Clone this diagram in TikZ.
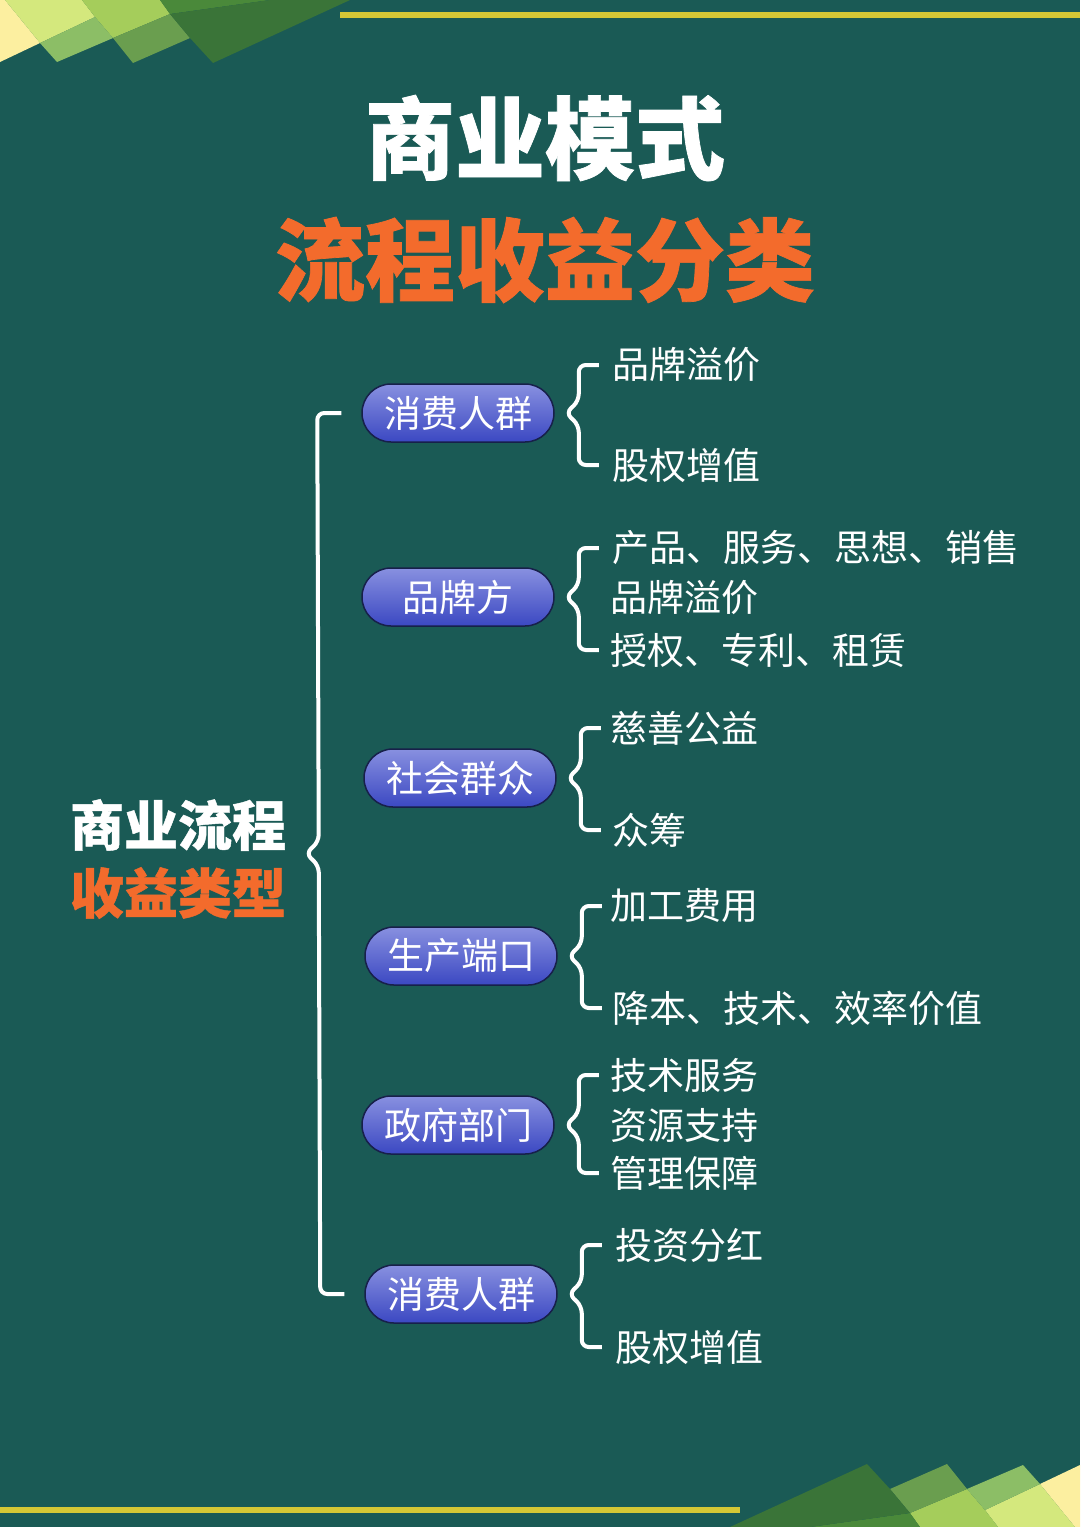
\documentclass[tikz,border=0pt]{standalone}
\usepackage{fontspec}
\setmainfont{Noto Sans CJK SC}[BoldFeatures={FakeBold=0.8}]
\usetikzlibrary{calc}

\definecolor{bgteal}{HTML}{1A5A55}
\definecolor{lineyellow}{HTML}{D5C735}
\definecolor{titleorange}{HTML}{F36B2C}
\definecolor{pilltop}{HTML}{8890E0}
\definecolor{pillbot}{HTML}{3B48C2}
\definecolor{pillrim}{HTML}{17204A}
\definecolor{decoyellow}{HTML}{FCEFA0}
\definecolor{decolight}{HTML}{D4E87D}
\definecolor{decolime}{HTML}{A5CD5B}
\definecolor{decomid}{HTML}{8CBE66}
\definecolor{decomoss}{HTML}{6A9E4F}
\definecolor{decoforest}{HTML}{4A893A}
\definecolor{decodark}{HTML}{3A7438}

\begin{document}
\begin{tikzpicture}[x=1pt, y=-1pt, font=\fontsize{37}{40}\selectfont,
  pill/.style={draw=pillrim, line width=1.5pt, rounded corners=29pt,
    minimum width=192pt, minimum height=58pt,
    top color=pilltop, bottom color=pillbot, text=white, inner sep=0pt},
  item/.style={anchor=west, text=white, inner sep=0pt},
  brace/.style={draw=white, line width=4pt, rounded corners=7pt}]

  \fill[bgteal] (0,0) rectangle (1080,1527);
  \useasboundingbox (0,0) rectangle (1080,1527);

  % corner shapes
  \def\deco{
    \fill[decoyellow] (0,0) -- (5,0) -- (40,43) -- (0,62) -- cycle;
    \fill[decolight] (5,0) -- (82,0) -- (95,17) -- (40,43) -- cycle;
    \fill[decolime] (82,0) -- (160,0) -- (170,14) -- (113,38) -- (95,17) -- cycle;
    \fill[decomid] (40,43) -- (95,17) -- (113,38) -- (57,62) -- cycle;
    \fill[decomoss] (113,38) -- (170,14) -- (190,38) -- (133,63) -- cycle;
    \fill[decoforest] (160,0) -- (270,0) -- (170,14) -- cycle;
    \fill[decodark] (170,14) -- (270,0) -- (350,0) -- (213,63) -- (190,38) -- cycle;
  }
  \deco
  \begin{scope}[rotate around={180:(540,763.5)}]
    \deco
  \end{scope}

  \fill[lineyellow] (340,12) rectangle (1080,18);
  \fill[lineyellow] (0,1507) rectangle (740,1513);

  % titles
  \node[font=\fontsize{90}{96}\selectfont\bfseries, text=white] (title) at (545,138) {商业模式};
  \node[font=\fontsize{90}{96}\selectfont\bfseries, text=titleorange] (subtitle) at (545,260) {流程收益分类};
  \node[font=\fontsize{54}{60}\selectfont\bfseries, text=white] (side) at (178,825) {商业流程};
  \node[font=\fontsize{54}{60}\selectfont\bfseries, text=titleorange] (side2) at (178,893) {收益类型};

  % sources
  \foreach \name/\x/\y/\txt in {p1/458/413/消费人群, p2/458/597/品牌方,
      p3/460/778/社会群众, p4/461/956/生产端口, p5/458/1125/政府部门,
      p6/461/1294/消费人群} {
    \node[pill] (\name) at (\x,\y) {\txt};
  }

  % revenue items
  \node[item] (a1) at (612,365) {品牌溢价};
  \node[item] (a2) at (612,465) {股权增值};
  \node[item] (b1) at (612,548) {产品、服务、思想、销售};
  \node[item] (b2) at (610,598) {品牌溢价};
  \node[item] (b3) at (610,650) {授权、专利、租赁};
  \node[item] (c1) at (610,728) {慈善公益};
  \node[item] (c2) at (612,830) {众筹};
  \node[item] (d1) at (610,906) {加工费用};
  \node[item] (d2) at (612,1008) {降本、技术、效率价值};
  \node[item] (e1) at (610,1075) {技术服务};
  \node[item] (e2) at (610,1125) {资源支持};
  \node[item] (e3) at (610,1173) {管理保障};
  \node[item] (f1) at (615,1245) {投资分红};
  \node[item] (f2) at (615,1347) {股权增值};

  % brace from a source to its first and last item
  \def\itemBrace#1#2#3{
    \coordinate (#1h) at ([xshift=44pt]#1.east);
    \coordinate (#1v) at ([xshift=24pt]#1.east);
    \coordinate (#1n) at ([xshift=11pt]#1.east);
    \draw[brace] (#1h |- #2.west) -- (#1v |- #2.west)
      -- ([yshift=12pt]#1v) -- (#1n) -- ([yshift=-12pt]#1v)
      -- (#1v |- #3.west) -- (#1h |- #3.west);
  }
  \itemBrace{p1}{a1}{a2}
  \itemBrace{p2}{b1}{b3}
  \itemBrace{p3}{c1}{c2}
  \itemBrace{p4}{d1}{d2}
  \itemBrace{p5}{e1}{e3}
  \itemBrace{p6}{f1}{f2}

  % main brace
  \coordinate (mid) at ($(p1.west)!0.5!(p6.west)$);
  \draw[brace] ([xshift=-20pt]p1.west) -- ([xshift=-44pt]p1.west)
    -- ([xshift=-44pt, yshift=12pt]mid) -- ([xshift=-57pt]mid)
    -- ([xshift=-44pt, yshift=-12pt]mid)
    -- ([xshift=-44pt]p6.west) -- ([xshift=-20pt]p6.west);
\end{tikzpicture}
\end{document}
